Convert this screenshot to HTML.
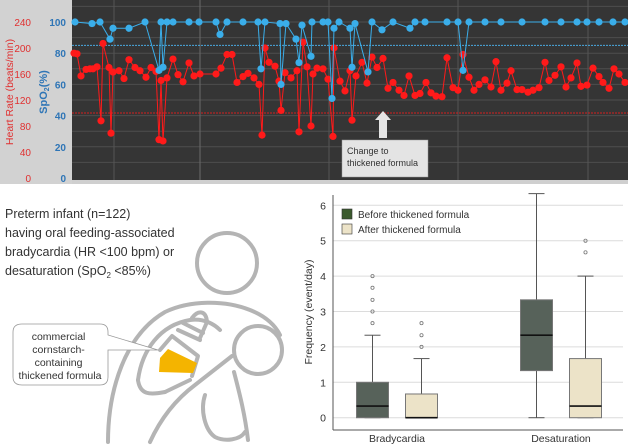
<!DOCTYPE html>
<html><head><meta charset="utf-8"><style>
body{margin:0;background:#fff;width:628px;height:447px;overflow:hidden;font-family:"Liberation Sans",sans-serif}
svg{display:block}
</style></head><body>
<svg id="fig" width="628" height="447" viewBox="0 0 628 447" xmlns="http://www.w3.org/2000/svg">
<rect x="0" y="0" width="628" height="447" fill="#fff"/>
<g id="top">
<rect x="0" y="0" width="72" height="184" fill="#d2d2d2"/>
<rect x="72" y="0" width="556" height="180" fill="#353535"/>
<rect x="72" y="180" width="556" height="4" fill="#cfcfcf"/>
<g id="topgrid"></g>
<g id="toplines"></g>
<text x="13" y="92" transform="rotate(-90 13 92)" text-anchor="middle" font-size="10.5" fill="#e03030">Heart Rate (beats/min)</text>
<text x="47" y="92" transform="rotate(-90 47 92)" text-anchor="middle" font-size="11" fill="#2e75b6" font-weight="bold">SpO<tspan font-size="7" dy="2">2</tspan><tspan dy="-2">(%)</tspan></text>
<g id="topticks"></g>
<g>
<rect x="342" y="140" width="86" height="37" fill="#e4e4e4" stroke="#999" stroke-width="0.5"/>
<text x="347" y="154" font-size="9" fill="#333">Change to</text>
<text x="347" y="166" font-size="9" fill="#333">thickened formula</text>
<polygon points="379,138 379,120 375,120 383,111 391,120 387,120 387,138" fill="#e4e4e4"/>
</g>
</g>

<g id="left">
<text font-size="12.5" fill="#333">
<tspan x="5" y="218">Preterm infant (n=122)</tspan>
<tspan x="5" y="237">having oral feeding-associated</tspan>
<tspan x="5" y="256">bradycardia (HR &lt;100 bpm) or</tspan>
<tspan x="5" y="275">desaturation (SpO<tspan font-size="8" dy="3">2</tspan><tspan dy="-3"> &lt;85%)</tspan></tspan>
</text>
<g fill="none" stroke="#b4b4b4" stroke-width="4" stroke-linecap="round" stroke-linejoin="round">
<circle cx="227" cy="263" r="30"/>
<circle cx="258" cy="350" r="24"/>
<path d="M108,442 C108,390 125,335 165,312 C190,300 225,300 250,310 C265,316 275,325 280,335"/>
<path d="M138,380 C142,350 160,325 190,320 C205,318 215,325 220,330"/>
<path d="M138,380 C140,395 150,395 165,392"/>
<path d="M150,442 C160,420 175,400 195,385 L232,356"/>
<path d="M165,392 L190,380"/>
<path d="M234,372 C240,395 245,415 248,440"/>
<path d="M205,395 C200,410 205,430 215,437 C225,442 240,440 245,432"/>
<path d="M160,350 L172,336 L198,356 L192,376 M178,330 L200,340 M183,323 L203,333 M192,318 C198,310 206,310 207,322 L200,338"/>
</g>
<polygon points="160,358 168,349 197,363 193,373 159,372" fill="#f4b400"/>
<g>
<path d="M22,324 L100,324 Q108,324 108,332 L108,335 L158,350 L108,350 L108,377 Q108,385 100,385 L22,385 Q13,385 13,377 L13,332 Q13,324 22,324 Z" fill="#fff" stroke="#999" stroke-width="0.8"/>
<text font-size="10.5" fill="#333" text-anchor="middle">
<tspan x="60" y="340">commercial</tspan>
<tspan x="60" y="353">cornstarch-</tspan>
<tspan x="60" y="366">containing</tspan>
<tspan x="60" y="379">thickened formula</tspan>
</text>
</g>
</g>

<g id="box">
<g id="boxgrid"></g>
<g id="boxmarks"></g>
<line x1="333" y1="195" x2="333" y2="430" stroke="#555" stroke-width="1"/>
<line x1="333" y1="430" x2="623" y2="430" stroke="#555" stroke-width="1"/>
<text x="312" y="312" transform="rotate(-90 312 312)" text-anchor="middle" font-size="10.5" fill="#333">Frequency (event/day)</text>
<g>
<rect x="342" y="209" width="10" height="10" fill="#3b5a2e" stroke="#333" stroke-width="0.6"/>
<text x="358" y="218" font-size="10" fill="#333">Before thickened formula</text>
<rect x="342" y="224" width="10" height="10" fill="#ece3c8" stroke="#333" stroke-width="0.6"/>
<text x="358" y="233" font-size="10" fill="#333">After thickened formula</text>
</g>
</g>
</svg>
<script>
// ---------- Top chart data ----------
const hrTime=[74,77,81,86,90,93,97,101,103,109,111,113,119,124,129,135,140,146,151,156,159,161,163,167,173,178,183,189,194,200,216,221,227,232,237,243,248,254,259,262,265,269,275,279,281,285,291,297,299,303,307,311,313,317,323,328,333,334,340,345,350,352,356,362,367,372,377,383,388,393,399,404,409,415,420,426,431,436,442,447,453,458,463,469,474,479,485,491,496,501,507,511,517,522,528,533,539,545,549,555,561,566,571,577,581,587,593,599,603,609,614,619,625];
const hrVal=[192,191,157,167,168,168,171,88,207,170,69,163,165,153,182,170,165,155,170,164,59,150,57,154,183,159,148,177,157,160,160,169,190,190,147,156,161,154,144,66,200,178,172,149,104,162,154,165,71,209,171,80,160,169,168,152,64,200,149,134,165,89,157,178,146,186,170,184,138,147,135,127,157,127,130,147,131,126,125,185,139,135,190,155,135,144,151,140,179,135,146,165,136,136,132,135,139,178,150,158,171,140,154,177,141,143,169,156,147,138,168,160,147];
const spTime=[75,92,100,110,113,129,145,159,161,163,167,173,189,199,216,220,227,243,258,261,265,280,281,286,296,299,302,311,312,323,328,332,334,339,350,352,355,368,372,382,393,410,415,425,447,458,463,469,485,501,522,545,561,577,587,599,613,625];
const spVal=[100,99,100,89,96,96,100,69,100,71,100,100,100,100,100,92,100,100,100,70,100,99,60,99,89,74,98,78,100,100,100,51,96,100,96,71,99,68,100,95,100,96,100,100,100,100,69,100,100,100,100,100,100,100,100,100,100,100];
const hrTicks=[0,40,80,120,160,200,240];
const spTicks=[0,20,40,60,80,100];
const hrThreshold=[100];
const spThreshold=[85];

// ---------- Box plot data ----------
const categories=["Bradycardia","Desaturation"];
const groups=["before","after"];
const boxBefore=[[0,0,0.33,1,2.33],[0,1.33,2.33,3.33,6.33]]; // min,q1,median,q3,max
const boxAfter=[[0,0,0,0.67,1.67],[0,0,0.33,1.67,4]];
const outBefore=[[2.67,3,3.33,3.67,4],[]];
const outAfter=[[2,2.33,2.67],[4.67,5]];
const freqTicks=[0,1,2,3,4,5,6];

const NS="http://www.w3.org/2000/svg";
function mk(tag,attrs,parent){const e=document.createElementNS(NS,tag);for(const k in attrs)e.setAttribute(k,attrs[k]);parent.appendChild(e);return e;}

const xT=t=>72+(t-72)*(556/556);
const yHR=v=>178-v*0.65;
const ySp=v=>178-v*1.56;
const tg=document.getElementById('topgrid');
for(let v=10;v<=110;v+=10){
  const l=mk('line',{x1:72,x2:628,y1:ySp(v),y2:ySp(v),stroke:'#4e4e4e','stroke-width':1},tg);
  
  
}
[114,200,329,458,588].forEach(x=>{
  const l=mk('line',{x1:x,x2:x,y1:0,y2:180,stroke:x===200?'#6a6a6a':'#555','stroke-width':1},tg);
  
  
});
const tl=document.getElementById('toplines');
hrThreshold.forEach(v=>{
  const l=mk('line',{x1:72,x2:628,y1:yHR(v),y2:yHR(v),stroke:'#d42020','stroke-width':1,'stroke-dasharray':'2,1'},tl);
  
  
});
spThreshold.forEach(v=>{
  const l=mk('line',{x1:72,x2:628,y1:ySp(v),y2:ySp(v),stroke:'#4aa8e0','stroke-width':1,'stroke-dasharray':'2,1'},tl);
  
  
});
function series(times,vals,ys,color,name){
  const g=mk('g',{},tl);
  
  
  const p=mk('polyline',{points:times.map((t,i)=>xT(t)+','+ys(vals[i])).join(' '),fill:'none',stroke:color,'stroke-width':1},g);
  
  
  times.forEach((t,i)=>{
    const c=mk('circle',{cx:xT(t),cy:ys(vals[i]),r:3.6,fill:color},g);
    
    
  });
}
series(hrTime,hrVal,yHR,'#ff1a1a','heart-rate-series');
series(spTime,spVal,ySp,'#3aaeea','spo2-series');
const tt=document.getElementById('topticks');
hrTicks.forEach(v=>{
  const t=mk('text',{x:31,y:yHR(v)+4,'text-anchor':'end','font-size':10,fill:'#e03030'},tt);t.textContent=v;
  
  
});
spTicks.forEach(v=>{
  const t=mk('text',{x:66,y:ySp(v)+4,'text-anchor':'end','font-size':10,fill:'#2e75b6','font-weight':'bold'},tt);t.textContent=v;
  
  
});

const yB=v=>417.7-v*35.4;
const catX=i=>397+i*164;
const bw=32, off=24.5;
const bg=document.getElementById('boxgrid');
freqTicks.forEach(v=>{
  const l=mk('line',{x1:333,x2:623,y1:yB(v),y2:yB(v),stroke:'#dcdcdc','stroke-width':1},bg);
  
  
  const t=mk('text',{x:326,y:yB(v)+4,'text-anchor':'end','font-size':10.5,fill:'#333'},bg);t.textContent=v;
  
  
});
const bm=document.getElementById('boxmarks');
function drawBox(stats,outs,cx,fill,name){
  const g=mk('g',{},bm);
  
  
  const [mn,q1,md,q3,mx]=stats;
  const w1=mk('line',{x1:cx,x2:cx,y1:yB(q3),y2:yB(mx),stroke:'#555'},g);
  
  const w2=mk('line',{x1:cx,x2:cx,y1:yB(q1),y2:yB(mn),stroke:'#555'},g);
  
  [mn,mx].forEach(v=>{
    const c=mk('line',{x1:cx-8,x2:cx+8,y1:yB(v),y2:yB(v),stroke:'#555'},g);
    
  });
  const r=mk('rect',{x:cx-bw/2,y:yB(q3),width:bw,height:Math.max(0.5,yB(q1)-yB(q3)),fill:fill,stroke:'#777','stroke-width':1},g);
  
  const m=mk('line',{x1:cx-bw/2,x2:cx+bw/2,y1:yB(md),y2:yB(md),stroke:'#111','stroke-width':1.6},g);
  
  outs.forEach(v=>{
    const o=mk('circle',{cx:cx,cy:yB(v),r:1.6,fill:'none',stroke:'#777','stroke-width':0.8},g);
    
  });
}
categories.forEach((c,i)=>{
  drawBox(boxBefore[i],outBefore[i],catX(i)-off,'#57625a','box-before-'+c.toLowerCase());
  drawBox(boxAfter[i],outAfter[i],catX(i)+off,'#ece3c8','box-after-'+c.toLowerCase());
  const t=mk('text',{x:catX(i),y:442,'text-anchor':'middle','font-size':10.5,fill:'#333'},bm);t.textContent=c;
  
  
});
</script>
</body></html>
